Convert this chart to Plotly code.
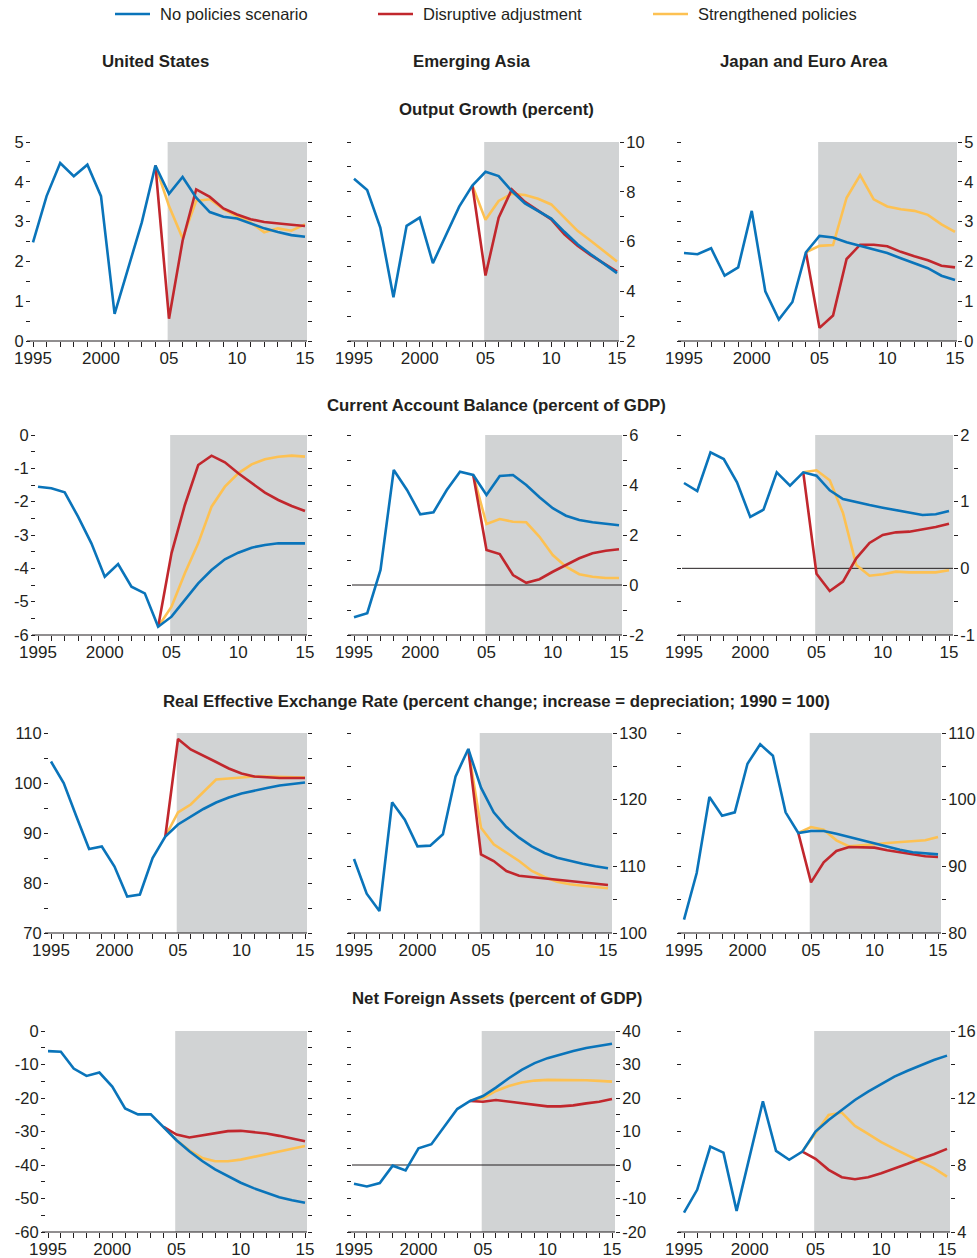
import plotly.graph_objects as go

W, H = 977, 1258

years = list(range(1995, 2016))
scen_years = list(range(2004, 2016))
proj_start = 2004.9

# ---- Output Growth (percent)
us_gdp_base = [2.48, 3.64, 4.47, 4.14, 4.43, 3.64, 0.68, 1.81, 2.98, 4.41, 3.70, 4.12, 3.60, 3.24, 3.12, 3.08, 2.95, 2.83, 2.74, 2.66, 2.62]
us_gdp_disr = [4.41, 0.56, 2.52, 3.81, 3.62, 3.33, 3.18, 3.06, 2.99, 2.95, 2.92, 2.89]
us_gdp_str = [4.41, 3.39, 2.58, 3.52, 3.56, 3.31, 3.13, 2.98, 2.73, 2.83, 2.77, 2.93]

ea_gdp_base = [8.52, 8.07, 6.56, 3.76, 6.63, 6.96, 5.13, 6.29, 7.40, 8.25, 8.80, 8.63, 8.03, 7.53, 7.23, 6.92, 6.39, 5.89, 5.49, 5.12, 4.73]
ea_gdp_disr = [8.25, 4.63, 6.96, 8.09, 7.59, 7.23, 6.89, 6.29, 5.83, 5.45, 5.13, 4.79]
ea_gdp_str = [8.25, 6.87, 7.63, 7.92, 7.87, 7.72, 7.49, 6.96, 6.43, 6.03, 5.63, 5.20]

je_gdp_base = [2.21, 2.18, 2.33, 1.64, 1.85, 3.27, 1.25, 0.54, 0.98, 2.23, 2.64, 2.60, 2.48, 2.39, 2.29, 2.21, 2.08, 1.95, 1.83, 1.64, 1.53]
je_gdp_disr = [2.23, 0.33, 0.64, 2.06, 2.42, 2.42, 2.38, 2.24, 2.13, 2.03, 1.89, 1.85]
je_gdp_str = [2.23, 2.39, 2.41, 3.60, 4.17, 3.56, 3.38, 3.31, 3.27, 3.17, 2.93, 2.74]

# ---- Current Account Balance (percent of GDP)
us_ca_base = [-1.55, -1.60, -1.72, -2.45, -3.25, -4.25, -3.87, -4.55, -4.75, -5.75, -5.45, -4.95, -4.45, -4.05, -3.73, -3.53, -3.38, -3.30, -3.25, -3.25, -3.25]
us_ca_disr = [-5.75, -3.55, -2.10, -0.90, -0.62, -0.82, -1.15, -1.45, -1.73, -1.95, -2.13, -2.28]
us_ca_str = [-5.75, -5.15, -4.15, -3.25, -2.15, -1.55, -1.15, -0.88, -0.73, -0.65, -0.62, -0.65]

ea_ca_base = [-1.29, -1.13, 0.60, 4.60, 3.80, 2.83, 2.91, 3.80, 4.53, 4.40, 3.60, 4.36, 4.40, 4.00, 3.51, 3.07, 2.77, 2.60, 2.51, 2.44, 2.39]
ea_ca_disr = [4.40, 1.40, 1.24, 0.40, 0.09, 0.23, 0.53, 0.80, 1.07, 1.27, 1.37, 1.43]
ea_ca_str = [4.40, 2.44, 2.64, 2.53, 2.51, 1.93, 1.20, 0.73, 0.43, 0.33, 0.28, 0.28]

je_ca_base = [1.28, 1.16, 1.74, 1.64, 1.29, 0.77, 0.88, 1.44, 1.24, 1.44, 1.39, 1.17, 1.04, 0.99, 0.95, 0.91, 0.87, 0.83, 0.80, 0.81, 0.86]
je_ca_disr = [1.44, -0.08, -0.34, -0.20, 0.15, 0.38, 0.50, 0.54, 0.55, 0.58, 0.62, 0.67]
je_ca_str = [1.44, 1.47, 1.32, 0.83, 0.05, -0.11, -0.09, -0.05, -0.06, -0.06, -0.06, -0.03]

# ---- Real Effective Exchange Rate (1990 = 100)
us_reer_base = [104.3, 100.0, 93.3, 86.8, 87.3, 83.3, 77.3, 77.7, 85.0, 89.3, 91.7, 93.3, 94.8, 96.1, 97.1, 97.9, 98.5, 99.0, 99.5, 99.8, 100.1]
us_reer_disr = [89.3, 108.8, 106.7, 105.5, 104.2, 102.9, 101.9, 101.3, 101.1, 101.0, 101.0, 101.0]
us_reer_str = [89.3, 94.1, 95.7, 98.1, 100.7, 100.9, 101.1, 101.3, 101.3, 101.2, 101.2, 101.1]

ea_reer_base = [111.1, 105.9, 103.3, 119.6, 117.0, 113.0, 113.1, 114.8, 123.5, 127.6, 121.8, 118.1, 115.9, 114.3, 113.0, 112.0, 111.3, 110.8, 110.4, 110.0, 109.7]
ea_reer_disr = [127.6, 111.8, 110.8, 109.3, 108.6, 108.4, 108.2, 107.9, 107.7, 107.5, 107.4, 107.2]
ea_reer_str = [127.6, 115.8, 113.3, 112.0, 110.8, 109.3, 108.4, 107.7, 107.3, 107.1, 106.9, 106.7]

je_reer_base = [82.0, 89.0, 100.4, 97.6, 98.1, 105.4, 108.3, 106.6, 98.1, 95.0, 95.3, 95.3, 94.9, 94.4, 93.9, 93.5, 93.0, 92.5, 92.1, 91.9, 91.8]
je_reer_disr = [95.0, 87.6, 90.6, 92.3, 92.9, 92.9, 92.8, 92.4, 92.1, 91.8, 91.5, 91.4]
je_reer_str = [95.0, 95.9, 95.5, 93.9, 93.0, 93.1, 93.3, 93.5, 93.6, 93.7, 93.9, 94.4]

# ---- Net Foreign Assets (percent of GDP)
us_nfa_base = [-6.0, -6.2, -11.2, -13.4, -12.4, -16.6, -23.1, -24.9, -24.9, -28.6, -32.6, -35.9, -38.8, -41.3, -43.4, -45.3, -46.9, -48.3, -49.6, -50.5, -51.3]
us_nfa_disr = [-28.6, -30.9, -31.8, -31.1, -30.4, -29.9, -29.8, -30.1, -30.6, -31.3, -32.1, -32.9]
us_nfa_str = [-28.6, -32.6, -35.6, -37.9, -38.9, -38.9, -38.4, -37.6, -36.8, -35.9, -35.1, -34.3]

ea_nfa_base = [-5.6, -6.4, -5.4, -0.2, -1.6, 5.0, 6.2, 11.3, 16.7, 19.1, 20.6, 23.1, 25.9, 28.4, 30.4, 31.9, 33.0, 34.0, 34.9, 35.6, 36.2]
ea_nfa_disr = [19.1, 18.9, 19.4, 18.9, 18.3, 17.8, 17.5, 17.5, 17.8, 18.4, 18.9, 19.7]
ea_nfa_str = [19.1, 19.9, 22.1, 23.6, 24.6, 25.2, 25.4, 25.4, 25.4, 25.3, 25.1, 24.9]

je_nfa_base = [5.16, 6.52, 9.10, 8.74, 5.26, 8.60, 11.80, 8.84, 8.31, 8.80, 10.00, 10.69, 11.29, 11.88, 12.38, 12.84, 13.28, 13.63, 13.97, 14.27, 14.53]
je_nfa_disr = [8.80, 8.37, 7.71, 7.27, 7.15, 7.27, 7.51, 7.77, 8.07, 8.37, 8.64, 8.96]
je_nfa_str = [8.80, 9.90, 10.99, 11.13, 10.33, 9.86, 9.36, 8.96, 8.56, 8.21, 7.81, 7.31]

column_titles = ["United States", "Emerging Asia", "Japan and Euro Area"]
row_titles = ["Output Growth (percent)",
              "Current Account Balance (percent of GDP)",
              "Real Effective Exchange Rate (percent change; increase = depreciation; 1990 = 100)",
              "Net Foreign Assets (percent of GDP)"]
series_names = ["No policies scenario", "Disruptive adjustment", "Strengthened policies"]
x_tickvals = years
x_ticktext = ["1995", "", "", "", "", "2000", "", "", "", "", "05", "", "", "", "", "10", "", "", "", "", "15"]

# per panel: (base, disruptive, strengthened, y range, major tick step, minor step, zero line)
panels = [
    [(us_gdp_base, us_gdp_disr, us_gdp_str, (0, 5), 1, 0.5, False),
     (ea_gdp_base, ea_gdp_disr, ea_gdp_str, (2, 10), 2, 1, False),
     (je_gdp_base, je_gdp_disr, je_gdp_str, (0, 5), 1, 0.5, False)],
    [(us_ca_base, us_ca_disr, us_ca_str, (-6, 0), 1, 0.5, False),
     (ea_ca_base, ea_ca_disr, ea_ca_str, (-2, 6), 2, 1, True),
     (je_ca_base, je_ca_disr, je_ca_str, (-1, 2), 1, 0.5, True)],
    [(us_reer_base, us_reer_disr, us_reer_str, (70, 110), 10, 5, False),
     (ea_reer_base, ea_reer_disr, ea_reer_str, (100, 130), 10, 5, False),
     (je_reer_base, je_reer_disr, je_reer_str, (80, 110), 10, 5, False)],
    [(us_nfa_base, us_nfa_disr, us_nfa_str, (-60, 0), 10, 5, False),
     (ea_nfa_base, ea_nfa_disr, ea_nfa_str, (-20, 40), 10, 5, True),
     (je_nfa_base, je_nfa_disr, je_nfa_str, (4, 16), 4, 2, False)],
]

# layout geometry in pixels: (x of 1995, x of 2015, right edge)
geo = [
    [(33, 305, 307), (354, 617, 619), (684, 955, 957)],
    [(38, 305, 307), (354, 619, 622), (684, 949, 953)],
    [(51, 305, 307), (354, 608, 612), (684, 938, 941)],
    [(48, 305, 307), (354, 612, 615), (684, 947, 950)],
]
row_px = [(142, 341), (435, 635), (733, 933), (1031, 1232)]
row_title_y = [109, 405, 701, 999]
col_title_x = [155, 472, 804]

BLUE = "#0A74BA"
RED = "#C1272D"
YEL = "#FDC152"
SHADE = "#D1D3D4"
INK = "#231F20"
FONT = "Liberation Sans, Arial, sans-serif"
TS = 17
YTS = 16.5

def frange(a, b, s):
    out = []
    v = a
    while v <= b + 1e-9:
        out.append(round(v, 6))
        v += s
    return out

def lab(v):
    return f"{v:g}"

fig = go.Figure()
shapes = []
layout = {}

n = 0
for r in range(4):
    ytop, ybot = row_px[r]
    for c in range(3):
        n += 1
        base, disr, strg, yr, major, minor, zero = panels[r][c]
        x95, x15, xend = geo[r][c]
        xleft = x95 - 2
        ppy = (x15 - x95) / 20.0
        xr = [1995 - (x95 - xleft) / ppy, 2015 + (xend - x15) / ppy]
        sx = "" if n == 1 else str(n)
        xa, ya = "x" + sx, "y" + sx

        for vals, xs, col in ((strg, scen_years, YEL), (disr, scen_years, RED), (base, years, BLUE)):
            fig.add_trace(go.Scatter(x=xs, y=vals, mode="lines", xaxis=xa, yaxis=ya,
                                     line=dict(color=col, width=2.6), showlegend=False,
                                     hoverinfo="x+y"))

        majors = frange(yr[0], yr[1], major)
        minors = [v for v in frange(yr[0], yr[1], minor) if all(abs(v - m) > 1e-9 for m in majors)]

        layout["xaxis" + sx] = dict(
            domain=[xleft / W, xend / W], range=xr, anchor=ya, automargin=False,
            showline=False, showgrid=False, zeroline=False,
            tickmode="array", tickvals=x_tickvals, ticktext=x_ticktext,
            ticks="outside", ticklen=5, tickwidth=1, tickcolor=INK, ticklabelstandoff=-3,
            tickfont=dict(family=FONT, size=TS, color=INK),
        )
        layout["yaxis" + sx] = dict(
            domain=[1 - ybot / H, 1 - ytop / H], range=list(yr), anchor=xa, automargin=False,
            side="left" if c == 0 else "right",
            showline=False, showgrid=False, zeroline=False, mirror="ticks",
            tickmode="array", tickvals=majors, ticktext=[lab(v) for v in majors],
            ticks="outside", ticklen=4, tickwidth=1, tickcolor=INK,
            ticklabelstandoff=-1,
            minor=dict(tickmode="array", tickvals=minors, ticks="outside", ticklen=4,
                       tickwidth=1, tickcolor=INK, showgrid=False),
            tickfont=dict(family=FONT, size=YTS, color=INK),
        )
        # projection shading
        shapes.append(dict(type="rect", xref=xa, yref=ya + " domain", x0=proj_start, x1=xr[1],
                           y0=0, y1=1, fillcolor=SHADE, line=dict(width=0), layer="below"))
        if zero:
            shapes.append(dict(type="line", xref=xa + " domain", yref=ya, x0=0, x1=1, y0=0, y1=0,
                               line=dict(color=INK, width=1), layer="below"))
        # x axis line (extends slightly left of plot area)
        shapes.append(dict(type="line", xref="paper", yref="paper",
                           x0=(xleft - 4) / W, x1=xend / W, y0=1 - ybot / H, y1=1 - ybot / H,
                           line=dict(color=INK, width=1)))

annotations = []
for c, t in enumerate(column_titles):
    annotations.append(dict(text="<b>" + t + "</b>", x=col_title_x[c] / W, y=1 - 61 / H,
                            xref="paper", yref="paper", showarrow=False, xanchor="center",
                            yanchor="middle", font=dict(family=FONT, size=16.8, color=INK)))
for r, t in enumerate(row_titles):
    annotations.append(dict(text="<b>" + t + "</b>", x=497 / W, y=1 - row_title_y[r] / H,
                            xref="paper", yref="paper", showarrow=False, xanchor="center",
                            yanchor="middle", font=dict(family=FONT, size=16.8, color=INK)))

# legend (manual)
leg = [(115, 150, 158, BLUE), (378, 413, 421, RED), (653, 688, 696, YEL)]
for (x0, x1, tx, col), name in zip(leg, series_names):
    shapes.append(dict(type="line", xref="paper", yref="paper", x0=x0 / W, x1=x1 / W,
                       y0=1 - 14 / H, y1=1 - 14 / H, line=dict(color=col, width=2.6)))
    annotations.append(dict(text=name, x=tx / W, y=1 - 14 / H, xref="paper", yref="paper",
                            showarrow=False, xanchor="left", yanchor="middle",
                            font=dict(family=FONT, size=16.5, color=INK)))

fig.update_layout(
    template="none",
    width=W, height=H, margin=dict(l=0, r=0, t=0, b=0, pad=0), autosize=False,
    paper_bgcolor="white", plot_bgcolor="rgba(0,0,0,0)",
    font=dict(family=FONT, color=INK),
    shapes=shapes, annotations=annotations, showlegend=False,
    **layout,
)

fig.write_html("out.html", config={"displayModeBar": False},
               post_script="document.body.style.margin='0';")
